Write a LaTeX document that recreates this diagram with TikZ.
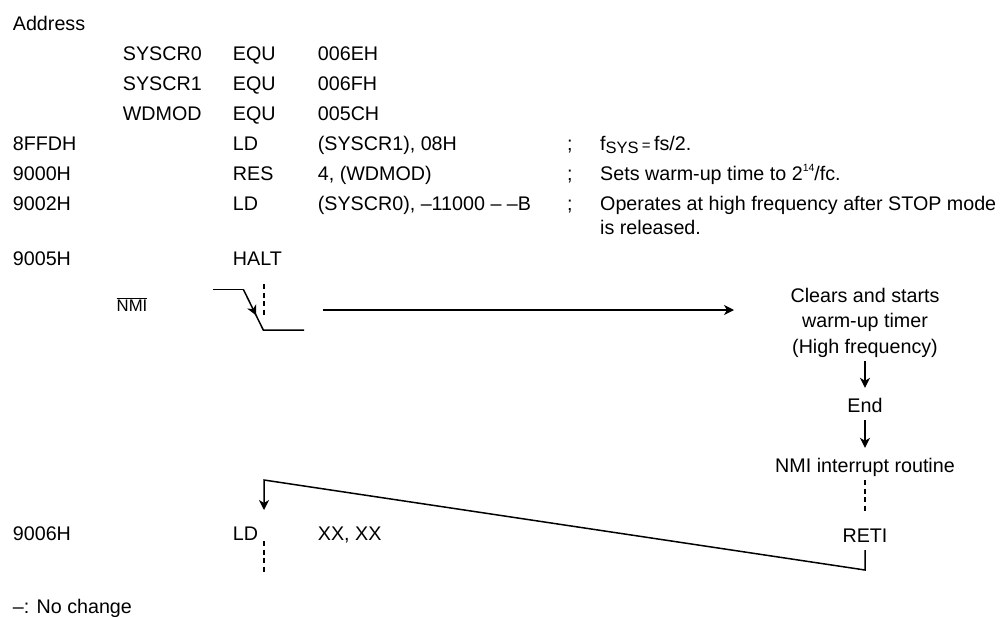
\documentclass[tikz,border=0pt]{standalone}
\usepackage{fontspec}
\setmainfont{Liberation Sans}
\usetikzlibrary{arrows.meta, calc}

\begin{document}
\begin{tikzpicture}[x=1pt, y=-1pt, >={Stealth[length=10pt, width=10pt, inset=3pt]},
		txt/.style={anchor=base west, inner sep=0pt},
		flow/.style={anchor=base, inner sep=4pt, text height=14pt, text depth=4pt},
		sig/.style={line width=1.5pt},
		cut/.style={line width=1.5pt, dash pattern=on 5pt off 3.5pt},
		font=\fontsize{19.7}{25.5}\selectfont]
		\useasboundingbox (0,0) rectangle (1008,616);

		% Header and EQU lines
		\node[txt] (addr) at (12.7,30) {Address};
		\node[txt] (lab0) at (122.7,60) {SYSCR0};
		\node[txt] (lab1) at (122.7,90) {SYSCR1};
		\node[txt] (lab2) at (122.7,120) {WDMOD};
		\node[txt] (equ0) at (232.7,60) {EQU};
		\node[txt] (equ1) at (232.7,90) {EQU};
		\node[txt] (equ2) at (232.7,120) {EQU};
		\node[txt] (val0) at (317.7,60) {006EH};
		\node[txt] (val1) at (317.7,90) {006FH};
		\node[txt] (val2) at (317.7,120) {005CH};

		% Program lines
		\node[txt] (adr0) at (12.7,150) {8FFDH};
		\node[txt] (adr1) at (12.7,180) {9000H};
		\node[txt] (adr2) at (12.7,210) {9002H};
		\node[txt] (adr3) at (12.7,265) {9005H};
		\node[txt] (adr4) at (12.7,540) {9006H};
		\node[txt] (ins0) at (232.7,150) {LD};
		\node[txt] (ins1) at (232.7,180) {RES};
		\node[txt] (ins2) at (232.7,210) {LD};
		\node[txt] (ins3) at (232.7,265) {HALT};
		\node[txt] (ins4) at (232.7,540) {LD};
		\node[txt] (opd0) at (317.7,150) {(SYSCR1), 08H};
		\node[txt] (opd1) at (317.7,180) {4, (WDMOD)};
		\node[txt] (opd2) at (317.7,210) {(SYSCR0), –11000 – –B};
		\node[txt] (opd4) at (317.7,540) {XX, XX};

		% Comments
		\node[txt] (sem0) at (567,150) {;};
		\node[txt] (sem1) at (567,180) {;};
		\node[txt] (sem2) at (567,210) {;};
		\node[txt] (rem0) at (600,150) {f\raisebox{-0.35ex}{\fontsize{16.5}{16.5}\selectfont SYS}\,{\fontsize{15}{15}\selectfont =}\,fs/2.};
		\node[txt] (rem1) at (600,180) {Sets warm-up time to 2\raisebox{0.85ex}{\fontsize{10.5}{10.5}\selectfont 14}/fc.};
		\node[txt] (rem2) at (600,210) {Operates at high frequency after STOP mode};
		\node[txt] (rem3) at (600,234) {is released.};

		% NMI input
		\node[anchor=base, inner sep=0pt, font=\fontsize{16.7}{20}\selectfont] (nmi) at (132,311) {$\overline{\mbox{NMI}}$};
		\coordinate (hi) at (213.3,289.3);
		\coordinate (fall) at (243.3,289.3);
		\coordinate (low) at (263.3,330);
		\coordinate (lowend) at (304,330);
		\draw[sig] (hi) -- (fall);
		\draw[sig, ->] (fall) -- ($(fall)!0.64!(low)$);
		\draw[sig] ($(fall)!0.6!(low)$) -- (low) -- (lowend);
		\draw[cut] (264,284) -- (264,316);

		% Release flow
		\coordinate (wake) at (323.3,310);
		\coordinate (warmin) at (734,310);
		\node[align=center, inner sep=4pt] (warm) at (865,322.4) {Clears and starts\\warm-up timer\\(High frequency)};
		\node[flow] (end) at (865,412) {End};
		\node[flow] (isr) at (865,472) {NMI interrupt routine};
		\node[flow] (reti) at (865,542) {RETI};
		\draw[sig, ->] (wake) -- (warmin);
		\draw[sig, ->, shorten >=6pt] (warm) -- (end);
		\draw[sig, ->, shorten >=6pt] (end) -- (isr);
		\draw[cut] (isr) -- ([yshift=10pt]reti.north);

		% Return to main program
		\coordinate (retbot) at (865,570);
		\coordinate (back) at (264,480);
		\coordinate (ldin) at (264,510);
		\draw[sig, ->] (reti) -- (retbot) -- (back) -- (ldin);
		\draw[cut] (264,541) -- (264,573);

		% Note
		\node[txt] (note) at (12.7,613) {–: No change};
	\end{tikzpicture}
\end{document}
